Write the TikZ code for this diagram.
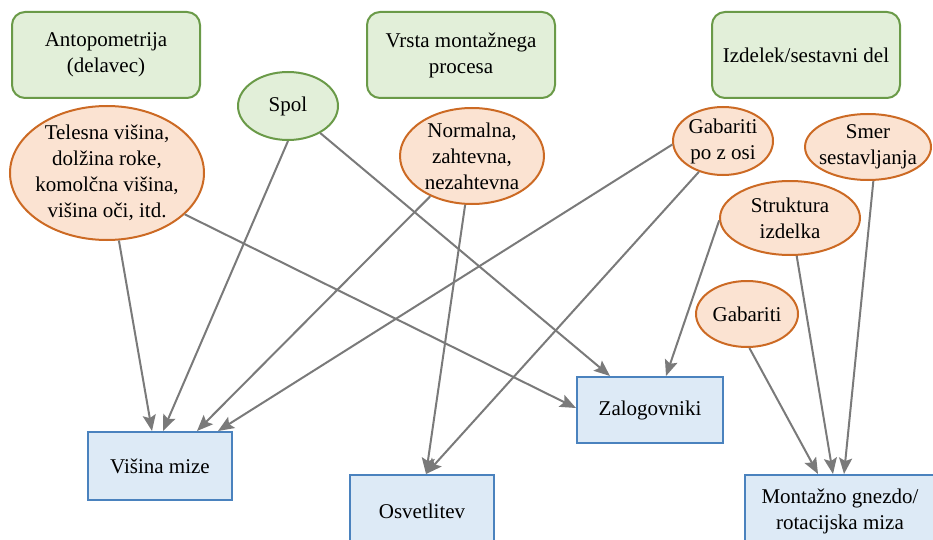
\documentclass[tikz,border=0pt]{standalone}
\usepackage{fontspec}
\setmainfont{Liberation Serif}
\usepackage{tikz}
\usetikzlibrary{shapes.geometric}
\usetikzlibrary{arrows.meta}
\definecolor{grnline}{HTML}{6A9A48}
\definecolor{grnfill}{HTML}{E2EFD9}
\definecolor{orgline}{HTML}{CC6A24}
\definecolor{orgfill}{HTML}{FBE3D2}
\definecolor{blueline}{HTML}{4A82BE}
\definecolor{bluefill}{HTML}{DDEAF6}
\definecolor{arrgray}{HTML}{7A7A7A}
\tikzset{%
  group/.style = {rectangle,rounded corners=13pt,draw=grnline,fill=grnfill,
        line width=2pt,minimum width=188pt,minimum height=86pt,align=center},
  gov/.style = {ellipse,draw=grnline,fill=grnfill,line width=2pt,inner sep=0pt},
  ov/.style = {ellipse,draw=orgline,fill=orgfill,line width=2pt,inner sep=0pt},
  res/.style = {rectangle,draw=blueline,fill=bluefill,line width=2pt,align=center},
  txt/.style = {align=center,inner sep=0pt},
  infl/.style = {-{Stealth[length=16pt,width=13pt,inset=3pt]},draw=arrgray,line width=2pt}
}

\begin{document}
\begin{tikzpicture}[x=1pt,y=-1pt,font=\fontsize{21}{26}\selectfont]
    \useasboundingbox (0,0) rectangle (933,540);
    \clip (0,0) rectangle (933,540);
    % groups
    \node[group] (ant) at (106,55) {Antopometrija\\(delavec)};
    \node[group] (vrs) at (461,55) {Vrsta montažnega\\procesa};
    \node[group] (izd) at (806,55) {Izdelek/sestavni del};
    % factors
    \node[gov,minimum width=100pt,minimum height=68pt] (spol) at (288,106) {};
    \node[txt] (spol-t) at (spol) {Spol};
    \node[ov,minimum width=194pt,minimum height=134pt] (tel) at (107,173) {};
    \node[txt] (tel-t) at (tel) {Telesna višina,\\dolžina roke,\\komolčna višina,\\višina oči, itd.};
    \node[ov,minimum width=144pt,minimum height=96pt] (norm) at (472,156) {};
    \node[txt] (norm-t) at (norm) {Normalna,\\zahtevna,\\nezahtevna};
    \node[ov,minimum width=100pt,minimum height=68pt] (gpz) at (723,141) {};
    \node[txt] (gpz-t) at (gpz) {Gabariti\\po z osi};
    \node[ov,minimum width=126pt,minimum height=66pt] (smer) at (868,147) {};
    \node[txt] (smer-t) at (smer) {Smer\\sestavljanja};
    \node[ov,minimum width=140pt,minimum height=74pt] (str) at (790,218) {};
    \node[txt] (str-t) at (str) {Struktura\\izdelka};
    \node[ov,minimum width=102pt,minimum height=66pt] (gab) at (747,314) {};
    \node[txt] (gab-t) at (gab) {Gabariti};
    % results
    \node[res,minimum width=144pt,minimum height=68pt] (vm) at (160,466) {Višina mize};
    \node[res,minimum width=146pt,minimum height=66pt] (zal) at (650,410) {Zalogovniki};
    \node[res,minimum width=144pt,minimum height=72pt] (osv) at (422,511) {Osvetlitev};
    \node[res,minimum width=190pt,minimum height=72pt] (mg) at (840,511) {Montažno gnezdo/\\rotacijska miza};
    % influences
    \draw[infl] (tel.-80) -- ([xshift=-8pt]vm.north);
    \draw[infl] (spol.south) -- ([xshift=3pt]vm.north);
    \draw[infl] (norm.-136) -- ([xshift=37pt]vm.north);
    \draw[infl] (gpz.184) -- ([xshift=58pt]vm.north);
    \draw[infl] (tel.-28) -- ([yshift=2pt]zal.west);
    \draw[infl] (spol.-40) -- ([xshift=-40pt]zal.north);
    \draw[infl] (str.182) -- ([xshift=16pt]zal.north);
    \draw[infl] (norm.-98) -- ([xshift=4pt]osv.north);
    \draw[infl] (gpz.-128) -- ([xshift=4pt]osv.north);
    \draw[infl] (gab.-86) -- ([xshift=-22pt]mg.north);
    \draw[infl] (str.-80) -- ([xshift=-7pt]mg.north);
    \draw[infl] (smer.-81) -- ([xshift=4pt]mg.north);
\end{tikzpicture}
\end{document}
